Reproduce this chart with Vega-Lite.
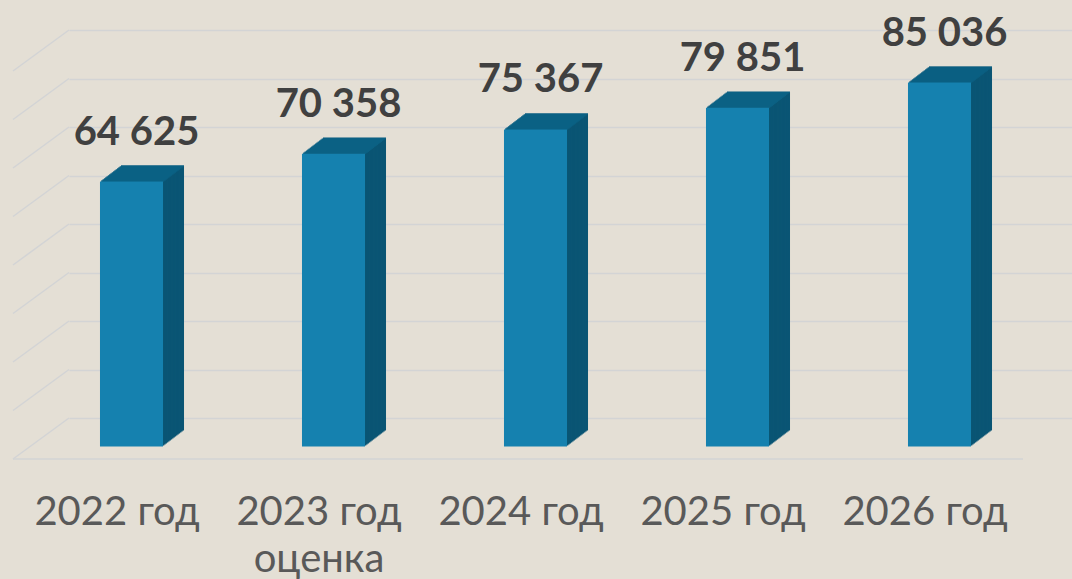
{
  "$schema": "https://vega.github.io/schema/vega-lite/v6.json",
  "width": 1003,
  "height": 388,
  "autosize": {"type": "none"},
  "padding": {"left": 69, "top": 30, "right": 0, "bottom": 161},
  "background": "#E4DFD5",
  "config": {
    "view": {"stroke": null},
    "locale": {"number": {"decimal": ",", "thousands": " ", "grouping": [3], "currency": ["", ""]}}
  },
  "datasets": {
    "main": [
      {"year": "2022 год", "v": 64625},
      {"year": "2023 год оценка", "v": 70358},
      {"year": "2024 год", "v": 75367},
      {"year": "2025 год", "v": 79851},
      {"year": "2026 год", "v": 85036}
    ],
    "grid": [
      {"v": 10000}, {"v": 20000}, {"v": 30000}, {"v": 40000}, {"v": 50000},
      {"v": 60000}, {"v": 70000}, {"v": 80000}, {"v": 90000}
    ]
  },
  "data": {"name": "main"},
  "encoding": {
    "x": {
      "field": "year", "type": "nominal", "sort": null,
      "scale": {"range": [0, 1010], "paddingInner": 0.688, "paddingOuter": 0.344},
      "axis": {
        "title": null, "domain": false, "ticks": false, "tickSize": 0,
        "labelFont": "Lato", "labelFontSize": 40, "labelColor": "#595959",
        "labelPadding": 74, "labelOffset": -53, "labelLineHeight": 47,
        "labelOverlap": false, "labelAngle": 0,
        "labelExpr": "datum.label == '2023 год оценка' ? ['2023 год', 'оценка'] : datum.label"
      }
    },
    "y": {
      "field": "v", "type": "quantitative",
      "scale": {"domain": [10000, 90000], "zero": false, "nice": false},
      "axis": {
        "title": null, "labels": false, "ticks": false, "domain": false,
        "grid": true, "values": [10000, 20000, 30000, 40000, 50000, 60000, 70000, 80000, 90000],
        "gridColor": "#D3D4D5", "gridWidth": 1.5
      }
    }
  },
  "layer": [
    {"data": {"name": "grid"}, "mark": {"type": "rule", "color": "#D3D4D5", "strokeWidth": 1.5, "y2Offset": 41},
     "encoding": {"x": {"value": 0}, "x2": {"value": -56}, "y2": {"field": "v"}}},
    {"data": {"values": [{"v": 10000}]}, "mark": {"type": "rule", "color": "#D3D4D5", "strokeWidth": 1.5, "yOffset": 41},
     "encoding": {"x": {"value": -56}, "x2": {"value": 954}}},

    {"mark": {"type": "bar", "color": "#0A5574", "xOffset": -17.5, "x2Offset": -17.5, "yOffset": 12.5, "y2Offset": 12.5}, "encoding": {"y2": {"datum": 10000}}},
    {"mark": {"type": "bar", "color": "#0A5574", "xOffset": -18.8125, "x2Offset": -18.8125, "yOffset": 13.5, "y2Offset": 13.5}, "encoding": {"y2": {"datum": 10000}}},
    {"mark": {"type": "bar", "color": "#0A5574", "xOffset": -20.125, "x2Offset": -20.125, "yOffset": 14.5, "y2Offset": 14.5}, "encoding": {"y2": {"datum": 10000}}},
    {"mark": {"type": "bar", "color": "#0A5574", "xOffset": -21.4375, "x2Offset": -21.4375, "yOffset": 15.5, "y2Offset": 15.5}, "encoding": {"y2": {"datum": 10000}}},
    {"mark": {"type": "bar", "color": "#0A5574", "xOffset": -22.75, "x2Offset": -22.75, "yOffset": 16.5, "y2Offset": 16.5}, "encoding": {"y2": {"datum": 10000}}},
    {"mark": {"type": "bar", "color": "#0A5574", "xOffset": -24.0625, "x2Offset": -24.0625, "yOffset": 17.5, "y2Offset": 17.5}, "encoding": {"y2": {"datum": 10000}}},
    {"mark": {"type": "bar", "color": "#0A5574", "xOffset": -25.375, "x2Offset": -25.375, "yOffset": 18.5, "y2Offset": 18.5}, "encoding": {"y2": {"datum": 10000}}},
    {"mark": {"type": "bar", "color": "#0A5574", "xOffset": -26.6875, "x2Offset": -26.6875, "yOffset": 19.5, "y2Offset": 19.5}, "encoding": {"y2": {"datum": 10000}}},
    {"mark": {"type": "bar", "color": "#0A5574", "xOffset": -28, "x2Offset": -28, "yOffset": 20.5, "y2Offset": 20.5}, "encoding": {"y2": {"datum": 10000}}},
    {"mark": {"type": "bar", "color": "#0A5574", "xOffset": -29.3125, "x2Offset": -29.3125, "yOffset": 21.5, "y2Offset": 21.5}, "encoding": {"y2": {"datum": 10000}}},
    {"mark": {"type": "bar", "color": "#0A5574", "xOffset": -30.625, "x2Offset": -30.625, "yOffset": 22.5, "y2Offset": 22.5}, "encoding": {"y2": {"datum": 10000}}},
    {"mark": {"type": "bar", "color": "#0A5574", "xOffset": -31.9375, "x2Offset": -31.9375, "yOffset": 23.5, "y2Offset": 23.5}, "encoding": {"y2": {"datum": 10000}}},
    {"mark": {"type": "bar", "color": "#0A5574", "xOffset": -33.25, "x2Offset": -33.25, "yOffset": 24.5, "y2Offset": 24.5}, "encoding": {"y2": {"datum": 10000}}},
    {"mark": {"type": "bar", "color": "#0A5574", "xOffset": -34.5625, "x2Offset": -34.5625, "yOffset": 25.5, "y2Offset": 25.5}, "encoding": {"y2": {"datum": 10000}}},
    {"mark": {"type": "bar", "color": "#0A5574", "xOffset": -35.875, "x2Offset": -35.875, "yOffset": 26.5, "y2Offset": 26.5}, "encoding": {"y2": {"datum": 10000}}},
    {"mark": {"type": "bar", "color": "#0A5574", "xOffset": -37.1875, "x2Offset": -37.1875, "yOffset": 27.5, "y2Offset": 27.5}, "encoding": {"y2": {"datum": 10000}}},

    {"mark": {"type": "tick", "color": "#0D6589", "size": 63, "thickness": 1.4, "xOffset": -17.5, "yOffset": 13}},
    {"mark": {"type": "tick", "color": "#0D6589", "size": 63, "thickness": 1.4, "xOffset": -18.8125, "yOffset": 14}},
    {"mark": {"type": "tick", "color": "#0D6589", "size": 63, "thickness": 1.4, "xOffset": -20.125, "yOffset": 15}},
    {"mark": {"type": "tick", "color": "#0D6589", "size": 63, "thickness": 1.4, "xOffset": -21.4375, "yOffset": 16}},
    {"mark": {"type": "tick", "color": "#0D6589", "size": 63, "thickness": 1.4, "xOffset": -22.75, "yOffset": 17}},
    {"mark": {"type": "tick", "color": "#0D6589", "size": 63, "thickness": 1.4, "xOffset": -24.0625, "yOffset": 18}},
    {"mark": {"type": "tick", "color": "#0D6589", "size": 63, "thickness": 1.4, "xOffset": -25.375, "yOffset": 19}},
    {"mark": {"type": "tick", "color": "#0D6589", "size": 63, "thickness": 1.4, "xOffset": -26.6875, "yOffset": 20}},
    {"mark": {"type": "tick", "color": "#0D6589", "size": 63, "thickness": 1.4, "xOffset": -28, "yOffset": 21}},
    {"mark": {"type": "tick", "color": "#0D6589", "size": 63, "thickness": 1.4, "xOffset": -29.3125, "yOffset": 22}},
    {"mark": {"type": "tick", "color": "#0D6589", "size": 63, "thickness": 1.4, "xOffset": -30.625, "yOffset": 23}},
    {"mark": {"type": "tick", "color": "#0D6589", "size": 63, "thickness": 1.4, "xOffset": -31.9375, "yOffset": 24}},
    {"mark": {"type": "tick", "color": "#0D6589", "size": 63, "thickness": 1.4, "xOffset": -33.25, "yOffset": 25}},
    {"mark": {"type": "tick", "color": "#0D6589", "size": 63, "thickness": 1.4, "xOffset": -34.5625, "yOffset": 26}},
    {"mark": {"type": "tick", "color": "#0D6589", "size": 63, "thickness": 1.4, "xOffset": -35.875, "yOffset": 27}},
    {"mark": {"type": "tick", "color": "#0D6589", "size": 63, "thickness": 1.4, "xOffset": -37.1875, "yOffset": 28}},

    {"mark": {"type": "bar", "color": "#1581AF", "xOffset": -38.5, "x2Offset": -38.5, "yOffset": 28.5, "y2Offset": 28.5}, "encoding": {"y2": {"datum": 10000}}},

    {"mark": {"type": "text", "font": "Lato", "fontSize": 40, "fontWeight": "bold", "color": "#404040", "align": "center", "baseline": "alphabetic", "dx": -33.5, "dy": -8.5},
     "encoding": {"text": {"field": "v", "type": "quantitative", "format": ",d", "formatType": "number"}}}
  ]
}
